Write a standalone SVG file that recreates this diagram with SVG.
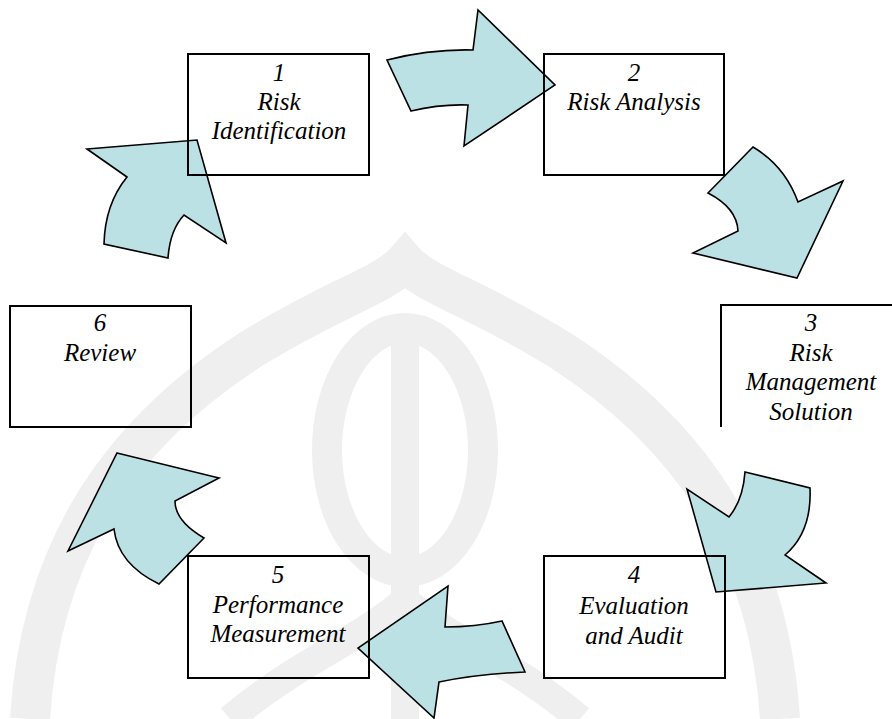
<svg xmlns="http://www.w3.org/2000/svg" width="892" height="719" viewBox="0 0 892 719">
<rect width="892" height="719" fill="#fff"/>
<g id="watermark" fill="none" stroke="#efefef">
<path stroke-width="40" d="M30,719 C40,560 110,440 250,350 C330,300 385,285 405,262 C425,285 480,300 560,350 C700,440 770,560 780,719"/>
<ellipse stroke-width="30" cx="405" cy="450" rx="78" ry="122"/>
<path stroke-width="28" d="M405,340 L405,719"/>
<path stroke-width="28" d="M405,600 C360,640 300,660 230,719"/>
<path stroke-width="28" d="M405,600 C450,640 510,660 580,719"/>
</g>
<g id="connectors" fill="#bbe1e4" stroke="#000" stroke-width="1.6">
<path id="arrow-1-2" d="M387,60 Q430,49 473,50 L478,10 L555,85 L464,146 L468,105 Q440,104 411,111 Z"/>
<path id="arrow-2-3" d="M753,147 Q785,166 798,202 L843,181 L797,278 L693,253 L738,231 Q737,208 708,193 Z"/>
<path id="arrow-3-4" d="M745,472 L810,488 Q812,532 785,555 L826,583 L716,592 L687,489 L729,517 Q743,500 745,472 Z"/>
<path id="arrow-4-5" d="M448,586 L445,627 Q475,627 502,621 L525,672 Q478,674 439,682 L434,718 L358,648 Z"/>
<path id="arrow-5-6" d="M117,453 L219,478 L175,501 Q175,521 204,538 L159,584 Q118,564 114,529 L68,551 Z"/>
<path id="arrow-6-1" d="M87,149 L197,140 L226,243 L184,215 Q170,230 168,258 L104,244 Q105,204 127,177 Z"/>
</g>
<g id="node1">
<rect x="188" y="54" width="181" height="121" fill="none" stroke="#000" stroke-width="2"/>
<text style="font-family:'Liberation Serif';font-style:italic;font-size:25px" text-anchor="middle" x="279" y="81">1</text>
<text style="font-family:'Liberation Serif';font-style:italic;font-size:25px" text-anchor="middle" x="279" y="110">Risk</text>
<text style="font-family:'Liberation Serif';font-style:italic;font-size:25px" text-anchor="middle" x="279" y="139">Identification</text>
</g>
<g id="node2">
<rect x="544" y="54" width="180" height="121" fill="none" stroke="#000" stroke-width="2"/>
<text style="font-family:'Liberation Serif';font-style:italic;font-size:25px" text-anchor="middle" x="634" y="81">2</text>
<text style="font-family:'Liberation Serif';font-style:italic;font-size:25px" text-anchor="middle" x="634" y="110">Risk Analysis</text>
</g>
<g id="node3">
<path d="M721,427 L721,305 L892,305" fill="none" stroke="#000" stroke-width="2"/>
<text style="font-family:'Liberation Serif';font-style:italic;font-size:25px" text-anchor="middle" x="811" y="331">3</text>
<text style="font-family:'Liberation Serif';font-style:italic;font-size:25px" text-anchor="middle" x="811" y="361">Risk</text>
<text style="font-family:'Liberation Serif';font-style:italic;font-size:25px" text-anchor="middle" x="811" y="390">Management</text>
<text style="font-family:'Liberation Serif';font-style:italic;font-size:25px" text-anchor="middle" x="811" y="420">Solution</text>
</g>
<g id="node4">
<rect x="544" y="556" width="181" height="122" fill="none" stroke="#000" stroke-width="2"/>
<text style="font-family:'Liberation Serif';font-style:italic;font-size:25px" text-anchor="middle" x="634" y="583">4</text>
<text style="font-family:'Liberation Serif';font-style:italic;font-size:25px" text-anchor="middle" x="634" y="614">Evaluation</text>
<text style="font-family:'Liberation Serif';font-style:italic;font-size:25px" text-anchor="middle" x="634" y="644">and Audit</text>
</g>
<g id="node5">
<rect x="188" y="556" width="181" height="122" fill="none" stroke="#000" stroke-width="2"/>
<text style="font-family:'Liberation Serif';font-style:italic;font-size:25px" text-anchor="middle" x="278" y="583">5</text>
<text style="font-family:'Liberation Serif';font-style:italic;font-size:25px" text-anchor="middle" x="278" y="613">Performance</text>
<text style="font-family:'Liberation Serif';font-style:italic;font-size:25px" text-anchor="middle" x="278" y="642">Measurement</text>
</g>
<g id="node6">
<rect x="10" y="306" width="181" height="121" fill="none" stroke="#000" stroke-width="2"/>
<text style="font-family:'Liberation Serif';font-style:italic;font-size:25px" text-anchor="middle" x="100" y="331">6</text>
<text style="font-family:'Liberation Serif';font-style:italic;font-size:25px" text-anchor="middle" x="100" y="361">Review</text>
</g>
</svg>
